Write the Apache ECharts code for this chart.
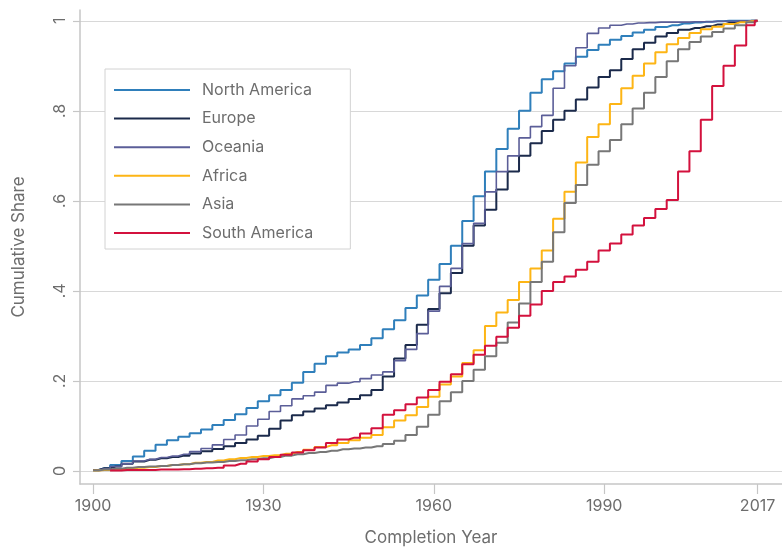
<!DOCTYPE html>
<html><head><meta charset="utf-8">
<script src="https://cdn.jsdelivr.net/npm/echarts@6/dist/echarts.min.js"></script>
<style>html,body{margin:0;padding:0;background:#fff}#c{width:782px;height:552px}</style>
</head><body><div id="c"></div>
<script>
const years = [1900,1902,1904,1906,1908,1910,1912,1914,1916,1918,
  1920,1922,1924,1926,1928,1930,1932,1934,1936,1938,
  1940,1942,1944,1946,1948,1950,1952,1954,1956,1958,
  1960,1962,1964,1966,1968,1970,1972,1974,1976,1978,
  1980,1982,1984,1986,1988,1990,1992,1994,1996,1998,
  2000,2002,2004,2006,2008,2010,2012,2014,2016,2017];
const northAmerica = [0.002,0.006,0.013,0.022,0.032,0.045,0.058,0.068,0.076,0.084,
  0.092,0.102,0.113,0.126,0.14,0.155,0.168,0.18,0.196,0.22,
  0.238,0.255,0.263,0.27,0.28,0.295,0.315,0.335,0.362,0.39,
  0.425,0.46,0.50,0.555,0.61,0.665,0.715,0.76,0.80,0.84,
  0.87,0.888,0.905,0.92,0.935,0.947,0.958,0.966,0.974,0.98,
  0.986,0.99,0.994,0.996,0.998,0.999,1,1,1,1];
const europe = [0.002,0.006,0.01,0.016,0.021,0.025,0.028,0.031,0.034,0.039,
  0.044,0.049,0.055,0.062,0.07,0.078,0.094,0.112,0.124,0.132,
  0.139,0.146,0.152,0.16,0.168,0.18,0.21,0.25,0.28,0.325,
  0.36,0.395,0.44,0.50,0.545,0.58,0.625,0.665,0.70,0.728,
  0.755,0.78,0.80,0.825,0.852,0.875,0.89,0.915,0.937,0.951,
  0.965,0.973,0.98,0.984,0.988,0.992,0.995,0.998,1,1];
const oceania = [0.002,0.005,0.01,0.016,0.022,0.026,0.03,0.033,0.037,0.043,
  0.05,0.058,0.07,0.08,0.1,0.115,0.132,0.145,0.16,0.167,
  0.175,0.19,0.195,0.198,0.205,0.213,0.22,0.245,0.27,0.305,
  0.355,0.41,0.45,0.505,0.55,0.62,0.665,0.70,0.74,0.765,
  0.79,0.85,0.90,0.94,0.972,0.984,0.99,0.993,0.995,0.996,
  0.997,0.997,0.997,0.998,0.998,0.999,0.999,1,1,1];
const africa = [0.001,0.002,0.003,0.005,0.007,0.009,0.011,0.013,0.015,0.018,
  0.02,0.023,0.026,0.029,0.031,0.033,0.035,0.038,0.042,0.047,
  0.053,0.057,0.062,0.068,0.074,0.08,0.097,0.112,0.124,0.142,
  0.165,0.192,0.21,0.24,0.268,0.322,0.352,0.38,0.42,0.45,
  0.49,0.56,0.62,0.685,0.742,0.77,0.815,0.85,0.878,0.905,
  0.93,0.948,0.962,0.973,0.981,0.987,0.993,0.997,0.999,1];
const asia = [0.001,0.003,0.005,0.007,0.009,0.01,0.011,0.013,0.015,0.017,
  0.019,0.02,0.022,0.024,0.026,0.028,0.031,0.034,0.037,0.04,
  0.042,0.045,0.048,0.05,0.052,0.055,0.06,0.067,0.08,0.098,
  0.125,0.155,0.175,0.2,0.225,0.255,0.285,0.33,0.372,0.42,
  0.465,0.53,0.595,0.635,0.68,0.71,0.735,0.77,0.805,0.84,
  0.875,0.91,0.937,0.953,0.965,0.975,0.983,0.99,0.997,1];
const southAmerica = [null,null,0.001,0.002,0.002,0.002,0.003,0.003,0.004,0.005,
  0.006,0.007,0.012,0.016,0.021,0.026,0.031,0.036,0.041,0.046,
  0.052,0.062,0.07,0.074,0.083,0.095,0.125,0.135,0.148,0.163,
  0.18,0.198,0.215,0.237,0.258,0.278,0.298,0.318,0.345,0.37,
  0.40,0.42,0.432,0.447,0.465,0.49,0.505,0.525,0.545,0.562,
  0.582,0.602,0.665,0.71,0.78,0.855,0.90,0.945,0.99,1];
const seriesNames = ['North America','Europe','Oceania','Africa','Asia','South America'];
const xTicks = [1900,1930,1960,1990,2017];
const yTicks = [0,0.2,0.4,0.6,0.8,1];

const colors = ['#2f7fbb','#1b2a4b','#5b5e98','#fdb515','#777777','#d3113d'];
const widths = [2,2,1.6,2,2,2];
const allData = [northAmerica,europe,oceania,africa,asia,southAmerica];
const FONT = 'Inter, "Open Sans", sans-serif';
const TXT = '#6d6d6d';
const AX = '#c6c6c6';

const chart = echarts.init(document.getElementById('c'), null, {renderer:'canvas'});
const series = seriesNames.map((n,k)=>({
  name:n, type:'line', step:'middle', showSymbol:false, symbol:'none',
  data: years.map((y,i)=>[y, allData[k][i]]),
  lineStyle:{color:colors[k], width:widths[k]}, itemStyle:{color:colors[k]},
  z: 2+k
}));
chart.setOption({
  animation:false,
  grid:{left:80, right:0, top:10, bottom:68},
  legend:{
    orient:'vertical', left:105, top:69,
    icon:'path://M0,0H76V2H0Z',
    padding:[13,37,8,9], itemWidth:76, itemHeight:14, itemGap:12.6,
    borderColor:'#d2d2d2', borderWidth:1, backgroundColor:'#fff',
    textStyle:{fontFamily:FONT, fontSize:16, color:TXT, padding:[0,0,0,7]},
    data: seriesNames
  },
  xAxis:{
    type:'value', min:1897.7, max:2021.3,
    axisLine:{show:true, onZero:false, lineStyle:{color:AX, width:1.5}},
    axisTick:{show:true, customValues:xTicks, length:10, lineStyle:{color:AX, width:1.2}},
    axisLabel:{customValues:xTicks, color:TXT, fontFamily:FONT, fontSize:16, margin:14,
      formatter:v=>String(v)},
    splitLine:{show:false},
    name:'Completion Year', nameLocation:'middle', nameGap:45,
    nameTextStyle:{fontFamily:FONT, fontSize:17, color:TXT}
  },
  yAxis:{
    type:'value', min:-0.029, max:1.024,
    axisLine:{show:true, onZero:false, lineStyle:{color:AX, width:1.5}},
    axisTick:{show:true, customValues:yTicks, length:7, lineStyle:{color:AX, width:1.2}},
    axisLabel:{customValues:yTicks, rotate:90, color:TXT, fontFamily:FONT, fontSize:16, margin:12,
      formatter:v=> (v===0?'0':(v===1?'1':String(+v.toFixed(1)).replace(/^0/,'')))},
    splitLine:{show:true, lineStyle:{color:'#d8d8d8', width:1}},
    name:'Cumulative Share', nameLocation:'middle', nameGap:53, nameRotate:90,
    nameTextStyle:{fontFamily:FONT, fontSize:17, color:TXT}
  },
  series: series
});
</script></body></html>
